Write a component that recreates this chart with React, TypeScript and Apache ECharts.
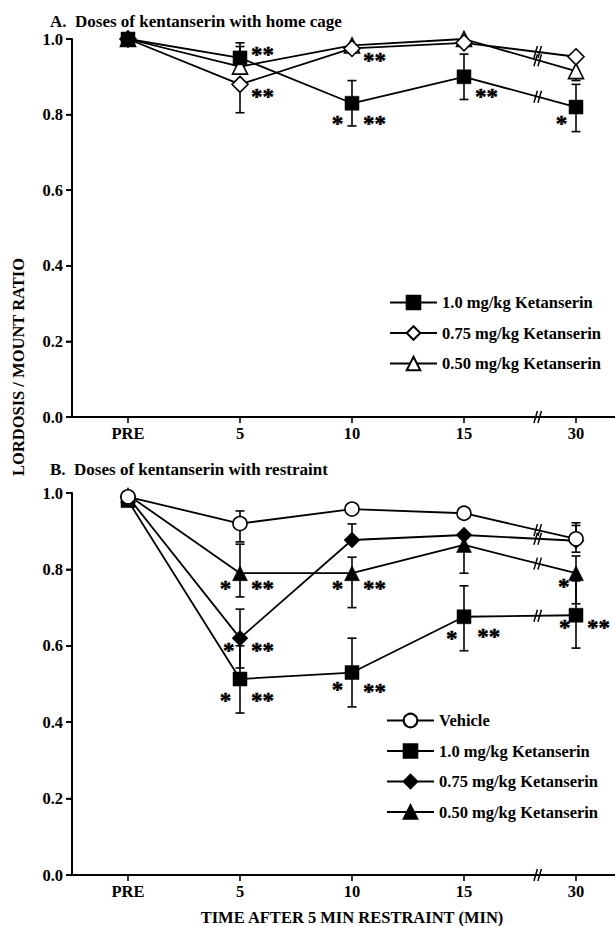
import React, { useEffect, useRef } from 'react';
import * as echarts from 'echarts';

// ---------- data ----------
const CATEGORIES = ['PRE', '5', '10', '15', '30'];
const Y_TICKS = [0, 0.2, 0.4, 0.6, 0.8, 1.0];

// Panel A: home cage
const A_SQ = [1.0, 0.95, 0.83, 0.9, 0.82];
const A_SQ_HI = [null, 0.99, 0.89, 0.96, 0.88];
const A_SQ_LO = [null, null, 0.77, 0.84, 0.755];
const A_DI = [1.0, 0.88, 0.975, 0.99, 0.953];
const A_DI_HI = [null, null, null, null, null];
const A_DI_LO = [null, 0.805, null, null, null];
const A_TR = [1.0, 0.927, 0.983, 1.0, 0.915];
const A_TR_HI = [null, 0.98, null, null, null];
const A_TR_LO = [null, null, null, null, 0.89];

// Panel B: restraint
const B_VE = [0.99, 0.92, 0.958, 0.947, 0.88];
const B_VE_HI = [null, 0.953, null, null, 0.922];
const B_VE_LO = [null, 0.872, null, null, null];
const B_SQ = [0.98, 0.513, 0.53, 0.676, 0.68];
const B_SQ_HI = [null, 0.6, 0.62, 0.757, 0.77];
const B_SQ_LO = [null, 0.424, 0.44, 0.587, 0.594];
const B_DI = [0.99, 0.62, 0.877, 0.89, 0.875];
const B_DI_HI = [null, 0.696, 0.919, null, 0.915];
const B_DI_LO = [null, 0.542, null, null, 0.845];
const B_TR = [0.995, 0.79, 0.79, 0.864, 0.79];
const B_TR_HI = [null, 0.866, 0.832, null, 0.835];
const B_TR_LO = [null, 0.728, 0.7, 0.79, 0.71];

// significance markers: [category index, shift in category widths, y value, text]
const A_STARS: [number, number, number, string][] = [
  [1, 0.2, 0.972, '**'],
  [1, 0.2, 0.862, '**'],
  [2, -0.13, 0.79, '*'],
  [2, 0.2, 0.79, '**'],
  [2, 0.2, 0.957, '**'],
  [3, 0.2, 0.86, '**'],
  [4, -0.13, 0.79, '*'],
];
const B_STARS: [number, number, number, string][] = [
  [1, -0.13, 0.763, '*'],
  [1, 0.2, 0.763, '**'],
  [1, -0.1, 0.602, '*'],
  [1, 0.2, 0.602, '**'],
  [1, -0.13, 0.471, '*'],
  [1, 0.2, 0.471, '**'],
  [2, -0.13, 0.763, '*'],
  [2, 0.2, 0.763, '**'],
  [2, -0.13, 0.5, '*'],
  [2, 0.2, 0.493, '**'],
  [3, -0.11, 0.633, '*'],
  [3, 0.22, 0.637, '**'],
  [4, -0.11, 0.768, '*'],
  [4, -0.1, 0.66, '*'],
  [4, 0.2, 0.66, '**'],
];

const BREAK_T = 0.66; // fraction of the 15 -> 30 interval where the axis break sits

const L_1 = '1.0 mg/kg Ketanserin';
const L_075 = '0.75 mg/kg Ketanserin';
const L_050 = '0.50 mg/kg Ketanserin';
const L_VEH = 'Vehicle';

// ---------- helpers ----------
const FONT = '"Liberation Serif", "Times New Roman", serif';
const FS = 16.5;

function lineSeries(name: string, vals: number[], symbol: string, filled: boolean, xi: number, z: number) {
  return {
    type: 'line',
    name,
    xAxisIndex: xi,
    yAxisIndex: xi,
    data: vals,
    symbol,
    symbolSize: symbol === 'triangle' ? 15 : symbol === 'diamond' ? 16 : 14,
    showSymbol: true,
    lineStyle: { color: '#000', width: 1.8 },
    itemStyle: {
      color: filled ? '#000' : '#fff',
      borderColor: '#000',
      borderWidth: filled ? 0.5 : 1.6,
    },
    emphasis: { disabled: true },
    silent: true,
    z,
  };
}

function errData(vals: number[], hi: (number | null)[], lo: (number | null)[]) {
  const out: number[][] = [];
  vals.forEach((v, i) => {
    if (hi[i] != null) out.push([i, v, hi[i] as number]);
    if (lo[i] != null) out.push([i, v, lo[i] as number]);
  });
  return out;
}

function errSeries(data: number[][], xi: number) {
  return {
    type: 'custom',
    xAxisIndex: xi,
    yAxisIndex: xi,
    data,
    silent: true,
    z: 1,
    renderItem: (_p: any, api: any) => {
      const i = api.value(0);
      const p0 = api.coord([i, api.value(1)]);
      const p1 = api.coord([i, api.value(2)]);
      const st = { stroke: '#000', lineWidth: 1.6 };
      return {
        type: 'group',
        children: [
          { type: 'line', shape: { x1: p0[0], y1: p0[1], x2: p1[0], y2: p1[1] }, style: st },
          { type: 'line', shape: { x1: p1[0] - 4.5, y1: p1[1], x2: p1[0] + 4.5, y2: p1[1] }, style: st },
        ],
      };
    },
  };
}

function starSeries(stars: [number, number, number, string][], xi: number) {
  return {
    type: 'custom',
    xAxisIndex: xi,
    yAxisIndex: xi,
    silent: true,
    z: 6,
    data: stars.map((s) => [s[0], s[1], s[2]]),
    renderItem: (params: any, api: any) => {
      const p = api.coord([api.value(0), api.value(2)]);
      const band = api.size([1, 0])[0];
      return {
        type: 'text',
        x: p[0] + api.value(1) * band,
        y: p[1] + 5,
        style: {
          text: stars[params.dataIndex][3],
          fill: '#000',
          stroke: '#000',
          lineWidth: 0.5,
          font: `bold 23px ${FONT}`,
          align: 'center',
          verticalAlign: 'middle',
        },
      };
    },
  };
}

function breakSeries(lines: number[][], xi: number) {
  const data = lines.map((s) => [3, s[3], s[4]]);
  data.push([3, 0, 0]);
  return {
    type: 'custom',
    xAxisIndex: xi,
    yAxisIndex: xi,
    silent: true,
    z: 7,
    data,
    renderItem: (_p: any, api: any) => {
      const a = api.coord([api.value(0), api.value(1)]);
      const b = api.coord([api.value(0) + 1, api.value(2)]);
      const x = a[0] + (b[0] - a[0]) * BREAK_T;
      const y = a[1] + (b[1] - a[1]) * BREAK_T;
      const st = { stroke: '#000', lineWidth: 1.5 };
      return {
        type: 'group',
        children: [
          { type: 'line', shape: { x1: x - 4, y1: y + 6, x2: x - 0.5, y2: y - 6 }, style: st },
          { type: 'line', shape: { x1: x, y1: y + 6, x2: x + 3.5, y2: y - 6 }, style: st },
        ],
      };
    },
  };
}

function catAxis(gridIndex: number) {
  return {
    type: 'category',
    gridIndex,
    data: CATEGORIES,
    boundaryGap: true,
    axisLine: { show: true, lineStyle: { color: '#000', width: 2 } },
    axisTick: { show: true, alignWithLabel: true, length: 6, lineStyle: { color: '#000', width: 1.6 } },
    axisLabel: { color: '#000', fontFamily: FONT, fontWeight: 'bold', fontSize: FS, margin: 8 },
    splitLine: { show: false },
  };
}

function yAxis(gridIndex: number) {
  return {
    type: 'value',
    gridIndex,
    min: 0,
    max: 1,
    interval: 0.2,
    axisLine: { show: true, lineStyle: { color: '#000', width: 2 } },
    axisTick: { show: true, length: 6, lineStyle: { color: '#000', width: 1.6 } },
    axisLabel: {
      color: '#000',
      fontFamily: FONT,
      fontWeight: 'bold',
      fontSize: FS,
      margin: 9,
      formatter: (v: number) => v.toFixed(1),
    },
    splitLine: { show: false },
  };
}

const legendText = { color: '#000', fontFamily: FONT, fontWeight: 'bold', fontSize: FS, lineHeight: 17 };

const textGraphics = [
  {
    id: 'ytitle',
    type: 'text',
    x: 18,
    y: 367,
    rotation: Math.PI / 2,
    style: {
      text: 'LORDOSIS / MOUNT RATIO',
      align: 'center',
      verticalAlign: 'middle',
      fill: '#000',
      font: `bold ${FS}px ${FONT}`,
    },
  },
  {
    id: 'xtitle',
    type: 'text',
    x: 352,
    y: 917,
    style: {
      text: 'TIME AFTER 5 MIN RESTRAINT (MIN)',
      align: 'center',
      verticalAlign: 'middle',
      fill: '#000',
      font: `bold ${FS}px ${FONT}`,
    },
  },
];

export default function App() {
  const ref = useRef<HTMLDivElement>(null);
  useEffect(() => {
    if (!ref.current) return;
    const chart = echarts.init(ref.current, null, { renderer: 'svg' });
    const option: any = {
      animation: false,
      title: [
        {
          text: 'A.  Doses of kentanserin with home cage',
          left: 45,
          top: 8,
          textStyle: { color: '#000', fontFamily: FONT, fontWeight: 'bold', fontSize: 17 },
        },
        {
          text: 'B.  Doses of kentanserin with restraint',
          left: 45,
          top: 456,
          textStyle: { color: '#000', fontFamily: FONT, fontWeight: 'bold', fontSize: 17 },
        },
      ],
      grid: [
        { left: 72, top: 39, width: 560, height: 378, outerBoundsMode: 'none' },
        { left: 72, top: 493, width: 560, height: 382, outerBoundsMode: 'none' },
      ],
      xAxis: [catAxis(0), catAxis(1)],
      yAxis: [yAxis(0), yAxis(1)],
      legend: [
        {
          orient: 'vertical',
          left: 384,
          top: 289,
          itemWidth: 47,
          itemHeight: 17,
          itemGap: 13.5,
          selectedMode: false,
          data: ['A|' + L_1, 'A|' + L_075, 'A|' + L_050],
          formatter: (n: string) => n.slice(2),
          textStyle: legendText,
        },
        {
          orient: 'vertical',
          left: 381,
          top: 707,
          itemWidth: 47,
          itemHeight: 17,
          itemGap: 13.5,
          selectedMode: false,
          data: ['B|' + L_VEH, 'B|' + L_1, 'B|' + L_075, 'B|' + L_050],
          formatter: (n: string) => n.slice(2),
          textStyle: legendText,
        },
      ],
      graphic: textGraphics,
      series: [
        // panel A
        errSeries(errData(A_TR, A_TR_HI, A_TR_LO), 0),
        errSeries(errData(A_DI, A_DI_HI, A_DI_LO), 0),
        errSeries(errData(A_SQ, A_SQ_HI, A_SQ_LO), 0),
        lineSeries('A|' + L_050, A_TR, 'triangle', false, 0, 2),
        lineSeries('A|' + L_075, A_DI, 'diamond', false, 0, 3),
        lineSeries('A|' + L_1, A_SQ, 'rect', true, 0, 4),
        starSeries(A_STARS, 0),
        breakSeries([A_TR, A_DI, A_SQ], 0),
        // panel B
        errSeries(errData(B_SQ, B_SQ_HI, B_SQ_LO), 1),
        errSeries(errData(B_TR, B_TR_HI, B_TR_LO), 1),
        errSeries(errData(B_DI, B_DI_HI, B_DI_LO), 1),
        errSeries(errData(B_VE, B_VE_HI, B_VE_LO), 1),
        lineSeries('B|' + L_1, B_SQ, 'rect', true, 1, 2),
        lineSeries('B|' + L_050, B_TR, 'triangle', true, 1, 3),
        lineSeries('B|' + L_075, B_DI, 'diamond', true, 1, 4),
        lineSeries('B|' + L_VEH, B_VE, 'circle', false, 1, 5),
        starSeries(B_STARS, 1),
        breakSeries([B_VE, B_DI, B_TR, B_SQ], 1),
      ],
    };
    chart.setOption(option);

    // y-axis spine and ticks placed with the chart's own coordinate conversion
    const spine: any[] = [];
    [0, 1].forEach((g) => {
      const finder = { xAxisIndex: g, yAxisIndex: g };
      const p0 = chart.convertToPixel(finder, [CATEGORIES[0], 0]) as number[];
      const p1 = chart.convertToPixel(finder, [CATEGORIES[1], 0]) as number[];
      const pTop = chart.convertToPixel(finder, [CATEGORIES[0], Y_TICKS[Y_TICKS.length - 1]]) as number[];
      if (!p0 || !p1 || !pTop) return;
      const x = p0[0] - (p1[0] - p0[0]) / 2;
      spine.push({
        id: `spine${g}`,
        type: 'line',
        z: 50,
        silent: true,
        shape: { x1: x, y1: p0[1] + 1, x2: x, y2: pTop[1] },
        style: { stroke: '#000', lineWidth: 2 },
      });
      Y_TICKS.forEach((v, k) => {
        const p = chart.convertToPixel(finder, [CATEGORIES[0], v]) as number[];
        spine.push({
          id: `tick${g}_${k}`,
          type: 'line',
          z: 50,
          silent: true,
          shape: { x1: x - 6, y1: p[1], x2: x, y2: p[1] },
          style: { stroke: '#000', lineWidth: 1.6 },
        });
      });
    });
    chart.setOption({ graphic: [...textGraphics, ...spine] });
    return () => chart.dispose();
  }, []);
  return (
    <div
      ref={ref}
      style={{ position: 'fixed', left: 0, top: 0, width: 615, height: 926, background: '#fff' }}
    />
  );
}
